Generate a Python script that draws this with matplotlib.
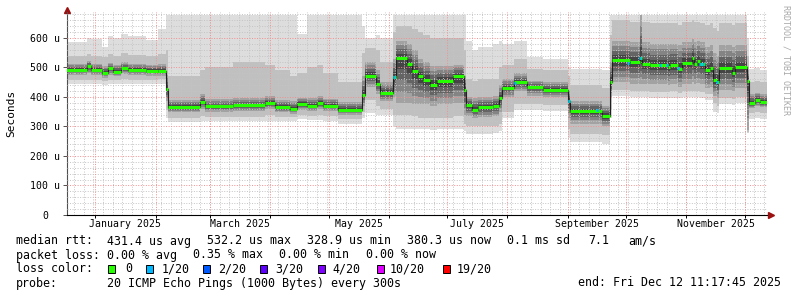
import numpy as np
import matplotlib
matplotlib.use("Agg")
import matplotlib.pyplot as plt
import matplotlib.dates as mdates
from matplotlib.patches import Rectangle

# smoke segments: each one runs from its start to the next start
seg_start = [
    "2024-12-17", "2024-12-27T17", "2024-12-29T19", "2025-01-04T11", "2025-01-07T13",
    "2025-01-10", "2025-01-14", "2025-01-18", "2025-01-27", "2025-02-02T06",
    "2025-02-06T06", "2025-02-07T10", "2025-02-23T21", "2025-02-26T10", "2025-03-12T19",
    "2025-03-29T07", "2025-04-03T11", "2025-04-11T04", "2025-04-14T18", "2025-04-19T22",
    "2025-04-25", "2025-04-28", "2025-05-05T19", "2025-05-18T05", "2025-05-19T17",
    "2025-05-25T12", "2025-05-27T14", "2025-06-03T07", "2025-06-04T19", "2025-06-10T12",
    "2025-06-13T02", "2025-06-16T05", "2025-06-18T17", "2025-06-22T07", "2025-06-25T22",
    "2025-07-04T02", "2025-07-09T17", "2025-07-10T17", "2025-07-13T19", "2025-07-16T21",
    "2025-07-24T14", "2025-07-27T17", "2025-07-29T05", "2025-08-04T10", "2025-08-11T02",
    "2025-08-19T07", "2025-09-01T05", "2025-09-02T05", "2025-09-18T17", "2025-09-22T19",
    "2025-09-23T19", "2025-10-03T02", "2025-10-08T05", "2025-10-09", "2025-10-13T07",
    "2025-10-22T14", "2025-10-23T14", "2025-10-27T17", "2025-10-29T19", "2025-11-03T22",
    "2025-11-05", "2025-11-06T12", "2025-11-08", "2025-11-10T14", "2025-11-13T05",
    "2025-11-14T17", "2025-11-16T19", "2025-11-17T19", "2025-11-24T12", "2025-11-26",
    "2025-12-02T05", "2025-12-03T08", "2025-12-06T10", "2025-12-08T22",
]
t_end = "2025-12-12T11:17"

# median rtt (us) per segment
med = [492, 505, 492, 482, 498, 486, 498, 492, 489, 489,
       428, 367, 384, 368, 372, 380, 366, 360, 376, 371,
       380, 371, 357, 407, 472, 445, 414, 468, 533, 512,
       488, 470, 458, 441, 455, 470, 424, 372, 357, 365,
       371, 397, 431, 451, 433, 424, 387, 352, 336, 451,
       525, 519, 533, 512, 507, 502, 508, 495, 514, 533,
       512, 523, 512, 490, 499, 458, 451, 499, 482, 501,
       455, 380, 390, 384]

# smoke envelope (us): outer light, middle grey, inner dark
smoke_lo = [443, 443, 443, 440, 443, 443, 445, 443, 443, 445,
            330, 315, 318, 320, 318, 320, 318, 320, 325, 322,
            322, 318, 310, 330, 345, 340, 340, 300, 290, 290,
            290, 290, 290, 288, 290, 292, 285, 275, 275, 275,
            278, 285, 330, 355, 355, 352, 260, 248, 240, 330,
            405, 400, 400, 400, 398, 398, 398, 395, 400, 400,
            400, 400, 398, 390, 390, 350, 345, 375, 372, 380,
            278, 325, 328, 325]
smoke_l1 = [458, 458, 458, 455, 458, 456, 460, 458, 458, 460,
            355, 330, 335, 333, 333, 338, 332, 332, 340, 336,
            338, 334, 325, 350, 390, 370, 360, 340, 340, 340,
            335, 330, 330, 330, 330, 335, 310, 300, 300, 300,
            302, 310, 350, 375, 375, 372, 290, 275, 270, 360,
            425, 420, 420, 420, 418, 418, 420, 415, 420, 420,
            420, 420, 418, 410, 410, 380, 370, 395, 392, 400,
            282, 345, 348, 345]
smoke_l2 = [474, 480, 474, 466, 476, 470, 478, 474, 472, 472,
            385, 348, 360, 350, 352, 360, 348, 344, 356, 352,
            360, 352, 340, 370, 435, 410, 385, 400, 380, 380,
            375, 375, 375, 370, 375, 380, 340, 335, 330, 332,
            335, 350, 400, 420, 405, 400, 330, 310, 300, 400,
            450, 445, 445, 445, 443, 440, 443, 435, 445, 450,
            445, 447, 443, 430, 435, 405, 395, 425, 420, 430,
            288, 362, 368, 365]
smoke_u2 = [512, 522, 512, 505, 515, 510, 518, 512, 510, 512,
            475, 390, 410, 392, 395, 402, 390, 385, 398, 395,
            402, 394, 382, 470, 520, 490, 450, 530, 590, 580,
            560, 530, 520, 505, 505, 510, 470, 400, 395, 400,
            402, 440, 460, 480, 455, 450, 420, 385, 370, 520,
            590, 585, 678, 585, 580, 580, 580, 575, 585, 595,
            585, 590, 585, 570, 575, 550, 540, 575, 570, 575,
            490, 410, 415, 410]
smoke_u1 = [540, 545, 540, 535, 545, 540, 548, 542, 540, 545,
            560, 470, 490, 500, 520, 510, 490, 470, 480, 500,
            510, 480, 450, 550, 565, 560, 520, 620, 640, 640,
            630, 620, 610, 600, 600, 600, 560, 460, 455, 460,
            462, 500, 510, 530, 495, 490, 470, 440, 430, 610,
            660, 655, 678, 655, 650, 650, 650, 645, 655, 660,
            655, 655, 652, 645, 650, 635, 625, 650, 645, 650,
            540, 450, 455, 450]
smoke_hi = [585, 600, 598, 568, 605, 600, 615, 605, 592, 630,
            678, 678, 678, 678, 678, 678, 678, 678, 615, 678,
            678, 678, 678, 640, 600, 610, 600, 678, 678, 678,
            678, 678, 678, 678, 678, 678, 678, 590, 560, 570,
            580, 590, 580, 590, 535, 530, 500, 495, 490, 678,
            678, 678, 678, 678, 678, 678, 678, 678, 678, 678,
            678, 678, 678, 678, 678, 678, 678, 678, 678, 678,
            600, 495, 498, 490]

# samples with 1/20 packet loss
loss1_time = ["2025-06-03T12", "2025-08-04T22", "2025-09-01T17", "2025-09-16T02",
              "2025-10-02", "2025-10-08T05", "2025-10-18T12", "2025-10-22T02",
              "2025-10-27T17", "2025-11-08", "2025-11-09T14", "2025-11-16T19"]
loss1_rtt = [468, 447, 387, 356, 514, 533, 507, 507, 497, 512, 512, 451]

loss_labels = ["0", "1/20", "2/20", "3/20", "4/20", "10/20", "19/20"]
loss_colors = ["#26ff00", "#00b8ff", "#0059ff", "#5e00ff", "#7e00ff", "#dd00ff", "#ff0000"]

rtt_stats = ["431.4 us avg", "532.2 us max", "328.9 us min", "380.3 us now",
             "0.1 ms sd", "7.1", "am/s"]
loss_stats = ["0.00 % avg", "0.35 % max", "0.00 % min", "0.00 % now"]
probe_text = "20 ICMP Echo Pings (1000 Bytes) every 300s"
end_text = "end: Fri Dec 12 11:17:45 2025"

month_starts = ["2025-%02d-01" % m for m in range(1, 13)]
label_months = ["2025-01-16T12", "2025-03-16T12", "2025-05-16T12",
                "2025-07-16T12", "2025-09-16", "2025-11-16"]
label_names = ["January 2025", "March 2025", "May 2025", "July 2025",
               "September 2025", "November 2025"]

plt.rcParams["font.family"] = "DejaVu Sans Mono"

W, H = 797, 297
fig = plt.figure(figsize=(W / 100, H / 100), dpi=100)
ax = fig.add_axes([67 / W, 1 - 215 / H, 700 / W, 203 / H])


def dnum(a):
    return mdates.date2num(np.array(a, dtype="datetime64[m]"))


edges = dnum(seg_start + [t_end])
t0 = mdates.date2num(np.datetime64(t_end) - np.timedelta64(360, "D"))
t1 = edges[-1]


def ext(v):
    v = np.asarray(v, dtype=float)
    return np.append(v, v[-1])


m = ext(med)
lo, l1, l2 = ext(smoke_lo), ext(smoke_l1), ext(smoke_l2)
u2, u1, hi = ext(smoke_u2), ext(smoke_u1), ext(smoke_hi)

# smoke, shaded darker towards the median
ax.fill_between(edges, lo, hi, step="post", color="#dddddd", lw=0, zorder=1)
ax.fill_between(edges, l1, u1, step="post", color="#c0c0c0", lw=0, zorder=1.1)
shades = ["#a2a2a2", "#848484", "#646464", "#444444"]
for k, c in enumerate(shades):
    f = k / len(shades)
    ax.fill_between(edges, l2 + (m - l2) * f, u2 - (u2 - m) * f, step="post",
                    color=c, lw=0, zorder=1.2 + k * 0.01)

# grid on top of the smoke
for v in range(20, 690, 20):
    if v % 100:
        ax.axhline(v, color="#c4c4c4", lw=0.7, ls=(0, (1, 1.6)), zorder=3)
for v in range(100, 700, 100):
    ax.axhline(v, color="#f09090", lw=0.7, ls=(0, (1, 1.6)), zorder=3.1)
minor_days = np.arange(np.datetime64("2024-12-16"), np.datetime64("2025-12-13"), np.timedelta64(5, "D"))
for d in dnum(minor_days):
    ax.axvline(d, color="#c4c4c4", lw=0.7, ls=(0, (1, 1.6)), zorder=3)
for d in dnum(month_starts):
    ax.axvline(d, color="#f09090", lw=0.7, ls=(0, (1, 1.6)), zorder=3.1)

# median line
ax.step(edges, m, where="post", color="#202020", lw=0.8, zorder=4)
ax.hlines(med, edges[:-1], edges[1:], color=loss_colors[0], lw=2.2, zorder=5)
lt = dnum(loss1_time)
ax.hlines(loss1_rtt, lt - 0.6, lt + 0.6, color=loss_colors[1], lw=2.2, zorder=6)

ax.set_xlim(t0, t1)
ax.set_ylim(0, 688)

for s in ["top", "right"]:
    ax.spines[s].set_visible(False)
ax.spines["left"].set_color("#505050")
ax.spines["bottom"].set_color("black")
ax.spines["left"].set_linewidth(0.8)
ax.spines["bottom"].set_linewidth(0.8)
ax.plot([1.006], [0], marker=">", ms=4, color="#9b1010", transform=ax.transAxes, clip_on=False)
ax.plot([0], [1.012], marker="^", ms=4, color="#9b1010", transform=ax.transAxes, clip_on=False)

ax.set_yticks(range(0, 700, 100))
ax.set_yticklabels(["0"] + ["%d u" % v for v in range(100, 700, 100)])
for lbl in ax.get_yticklabels():
    lbl.set_horizontalalignment("center")
ax.tick_params(axis="y", length=2.9, width=0.7, pad=13, labelsize=7.1, color="#505050")

ax.set_xticks(dnum(month_starts))
ax.set_xticklabels([])
ax.set_xticks(dnum(label_months), minor=True)
ax.set_xticklabels(label_names, minor=True)
ax.tick_params(axis="x", which="major", length=2.2, width=0.7)
ax.tick_params(axis="x", which="minor", length=0, pad=2.6, labelsize=7.1)

fig.text(11 / W, 1 - 113 / H, "Seconds", rotation=90, ha="center", va="center", fontsize=8)
fig.text(786 / W, 1 - 60 / H, "RRDTOOL / TOBI OETIKER", rotation=270, ha="center", va="center",
         fontsize=6, color="#a8a8a8")

fs = 8.4


def txt(x, y, s):
    fig.text(x / W, 1 - y / H, s, ha="left", va="center", fontsize=fs)


txt(16, 241, "median rtt:")
for x, s in zip([107, 207, 307, 407, 507, 588, 628], rtt_stats):
    txt(x, 241, s)
txt(16, 255, "packet loss:")
for x, s in zip([107, 193, 279, 366], loss_stats):
    txt(x, 255, s)
txt(16, 269, "loss color:")
for bx, lx, s, c in zip([108, 146, 203, 260, 318, 377, 443],
                        [125, 162, 218, 275, 332, 390, 457], loss_labels, loss_colors):
    fig.add_artist(Rectangle((bx / W, 1 - 273 / H), 7 / W, 8 / H, transform=fig.transFigure,
                             facecolor=c, edgecolor="black", lw=0.7))
    txt(lx, 269, s)
txt(16, 283, "probe:")
txt(107, 283, probe_text)
txt(578, 283, end_text)

fig.savefig("out.png", dpi=100)
